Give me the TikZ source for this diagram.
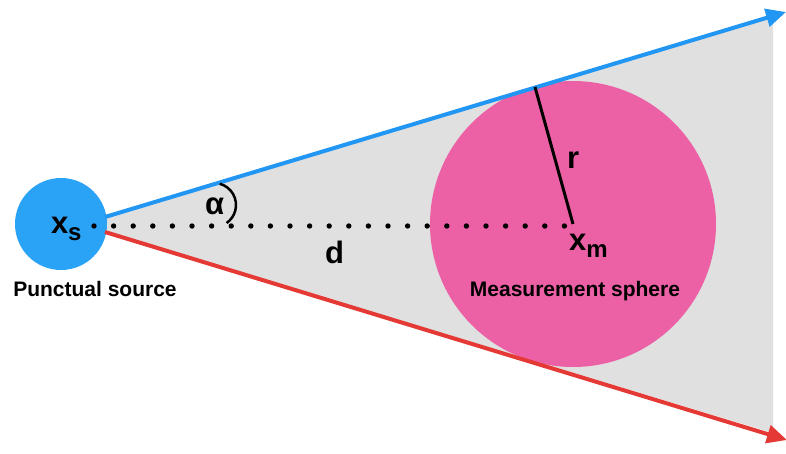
\documentclass[tikz,border=0pt]{standalone}
\usepackage{fontspec}
\setmainfont{Liberation Sans}
\usetikzlibrary{arrows.meta}
\definecolor{rayblue}{HTML}{2196F3}
\definecolor{rayred}{HTML}{E53935}
\definecolor{conegray}{HTML}{E0E0E0}
\definecolor{spherepink}{HTML}{EC60A6}
\definecolor{sourceblue}{HTML}{2AA2F6}
\begin{document}
\begin{tikzpicture}[x=1pt,y=-1pt,>={Triangle[length=20pt,width=18pt]},line width=4pt,
  lbl/.style={font=\bfseries\fontsize{31}{31}\selectfont,inner sep=0pt,anchor=base west},
  caption/.style={font=\bfseries\fontsize{21}{24}\selectfont,inner sep=0pt,anchor=base}]
  \useasboundingbox (0,0) rectangle (786,453);
  \coordinate (apex) at (81,224);
  \coordinate (s) at (61,224);
  \coordinate (m) at (573,224);
  \coordinate (bs) at (105,217);
  \coordinate (rs) at (105,232);
  \coordinate (be) at (786,12);
  \coordinate (re) at (787,440);
  \coordinate (t) at (535,87);
  \coordinate (ac) at (214,205);
  % cone and spheres
  \fill[conegray] (apex)--(773,17)--(773,433)--cycle;
  \fill[spherepink] (m) circle (143);
  \fill[sourceblue] (s) circle (46);
  % rays
  \draw[rayblue,->] (bs)--(be);
  \draw[rayred,->] (rs)--(re);
  % distance d
  \foreach \i in {0,...,24} {
    \fill (94+\i*19.6,226) circle (2.7);
  }
  % radius and angle
  \draw[line width=3pt] (m)--(t);
  \draw[line width=2.5pt] (ac) ++(-75:22) arc[start angle=-75,end angle=55,radius=22];
  % labels
  \node[lbl] (xs) at (49,233) {x\raisebox{-7pt}{\fontsize{24}{24}\selectfont s}};
  \node[lbl] (xm) at (567,250) {x\raisebox{-7pt}{\fontsize{24}{24}\selectfont m}};
  \node[lbl] (alpha) at (203,214) {α};
  \node[lbl] (dist) at (323,263) {d};
  \node[lbl] (rad) at (565,168) {r};
  \node[caption] (srclbl) at (95,296) {Punctual source};
  \node[caption] (sphlbl) at (575,296) {Measurement sphere};
\end{tikzpicture}
\end{document}
